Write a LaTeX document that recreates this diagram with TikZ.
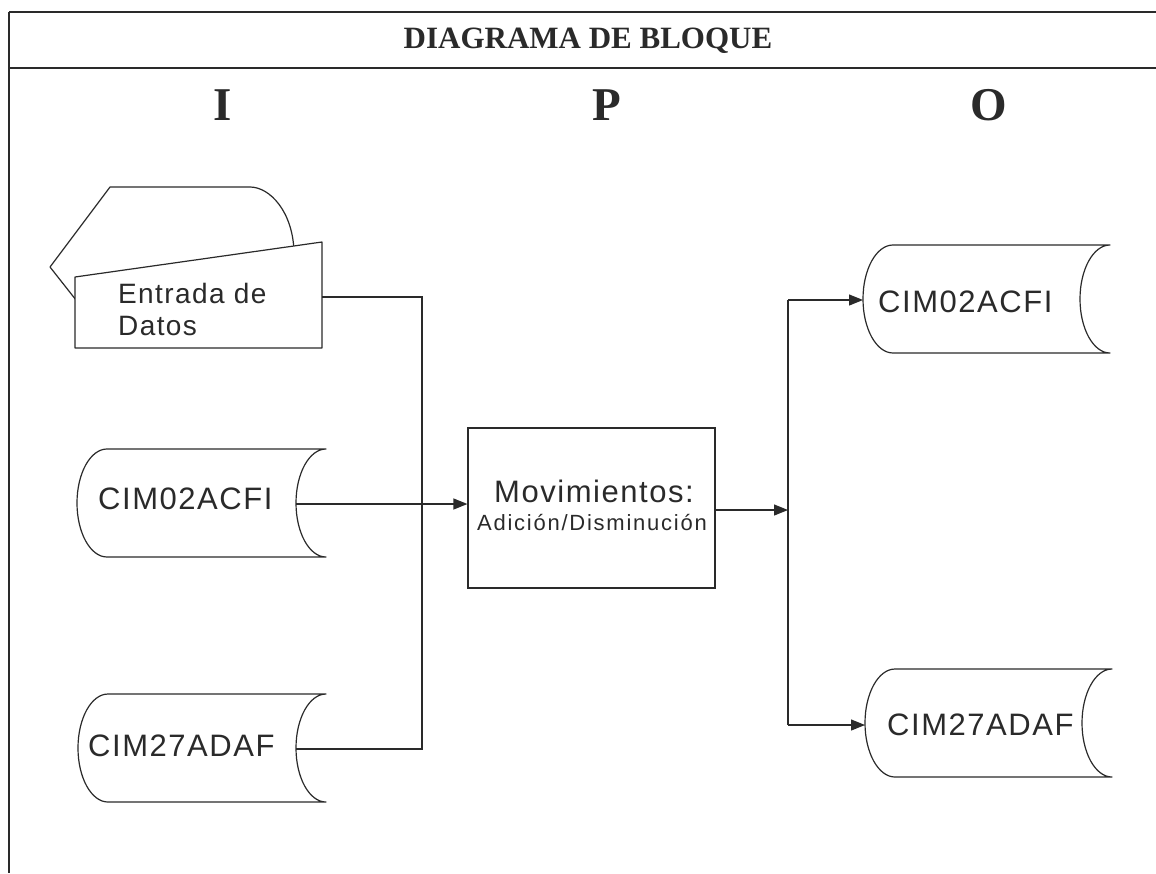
\documentclass[tikz,border=0pt]{standalone}
\usepackage{fontspec}
\setmainfont{Liberation Serif}
\newfontfamily\lblfont{Liberation Sans}[LetterSpace=5]
\newfontfamily\lblwide{Liberation Sans}[LetterSpace=8]
\usetikzlibrary{arrows.meta,calc}
\definecolor{ink}{HTML}{2A2A2A}
\tikzset{
  shp/.style={draw=ink, line width=1.2pt, line join=round},
  conn/.style={draw=ink, line width=1.2pt},
  arr/.style={conn, -{Triangle[length=14pt,width=11pt]}},
  lbl/.style={inner sep=0pt, text=ink, font=\lblfont\fontsize{31}{31}\selectfont},
  ipo/.style={inner sep=0pt, anchor=base, text=ink, font=\bfseries\fontsize{47}{47}\selectfont},
}
\newcommand\storshape[3]{% #1 left corner x, #2 right corner x, #3 middle y
  \pgfmathsetmacro\stXa{#1}\pgfmathsetmacro\stXb{#2}\pgfmathsetmacro\stYm{#3}
  \pgfmathsetmacro\stYt{#3-54}\pgfmathsetmacro\stYb{#3+54}
  \pgfmathsetmacro\stXal{#1-30}\pgfmathsetmacro\stXbl{#2-30}
  \pgfmathsetmacro\stXak{#1-16.6}\pgfmathsetmacro\stXbk{#2-16.6}
  \pgfmathsetmacro\stYtk{#3-29.8}\pgfmathsetmacro\stYbk{#3+29.8}
  \draw[shp] (\stXa,\stYt) -- (\stXb,\stYt)
    .. controls (\stXbk,\stYt) and (\stXbl,\stYtk) .. (\stXbl,\stYm)
    .. controls (\stXbl,\stYbk) and (\stXbk,\stYb) .. (\stXb,\stYb)
    -- (\stXa,\stYb)
    .. controls (\stXak,\stYb) and (\stXal,\stYbk) .. (\stXal,\stYm)
    .. controls (\stXal,\stYtk) and (\stXak,\stYt) .. (\stXa,\stYt) -- cycle;
}
\begin{document}
\begin{tikzpicture}[x=1pt,y=-1pt]
\useasboundingbox (0,0) rectangle (1156,873);
\fill[white] (0,0) rectangle (1156,873);

% frame
\draw[draw=ink, line width=2.4pt] (9,12) -- (1156,12);
\draw[conn] (9,68) -- (1156,68);
\draw[conn] (9,12) -- (9,873);
\node[inner sep=0pt, anchor=base, text=ink, font=\bfseries\fontsize{31}{31}\selectfont] (title) at (588,48) {DIAGRAMA DE BLOQUE};
\node[ipo] (hI) at (223,120) {I};
\node[ipo] (hP) at (607,120) {P};
\node[ipo] (hO) at (989,120) {O};

% Entrada de Datos (display + manual input)
\draw[shp] (76,300) -- (50,267) -- (110,187) -- (250,187)
  .. controls (270,187) and (293,212) .. (294,252);
\draw[shp, fill=white] (75,277) -- (322,242) -- (322,348) -- (75,348) -- cycle;
\node[lbl, anchor=base west, font=\lblfont\fontsize{28}{28}\selectfont] (ent1) at (118,303) {Entrada de};
\node[lbl, anchor=base west, font=\lblfont\fontsize{28}{28}\selectfont] (ent2) at (118,335) {Datos};
\coordinate (entE) at (322,297);

% input stores
\storshape{107}{326}{503}
\node[lbl, anchor=base west] (tL02) at (98,509) {CIM02ACFI};
\coordinate (L02e) at (296,504);
\storshape{108}{326}{748}
\node[lbl, anchor=base west] (tL27) at (88,756) {CIM27ADAF};
\coordinate (L27e) at (296,749);

% process
\node[draw=ink, line width=1.2pt, minimum width=247pt, minimum height=160pt, inner sep=0pt] (box) at (591.5,508) {};
\node[lbl, anchor=base] (mov1) at (594,502) {Movimientos:};
\node[lbl, anchor=base, font=\lblwide\fontsize{22}{22}\selectfont] (mov2) at (592,530) {Adición/Disminución};

% output stores
\storshape{893}{1110}{299}
\node[lbl, anchor=base west] (tR02) at (878,312) {CIM02ACFI};
\coordinate (R02w) at (863,300);
\storshape{895}{1112}{723}
\node[lbl, anchor=base west] (tR27) at (887,735) {CIM27ADAF};
\coordinate (R27w) at (865,725);

% connectors in
\coordinate (j1) at (422,297);
\coordinate (j2) at (422,749);
\draw[conn] (entE) -- (j1) -- (j2) -- (L27e);
\draw[arr] (L02e) -- (L02e -| box.west);

% connectors out
\coordinate (k0) at (788,510);
\coordinate (k1) at (788,300);
\coordinate (k2) at (788,725);
\draw[arr] (box.east |- k0) -- (k0);
\draw[conn] (k1) -- (k2);
\draw[arr] (k1) -- (R02w);
\draw[arr] (k2) -- (R27w);
\end{tikzpicture}
\end{document}
